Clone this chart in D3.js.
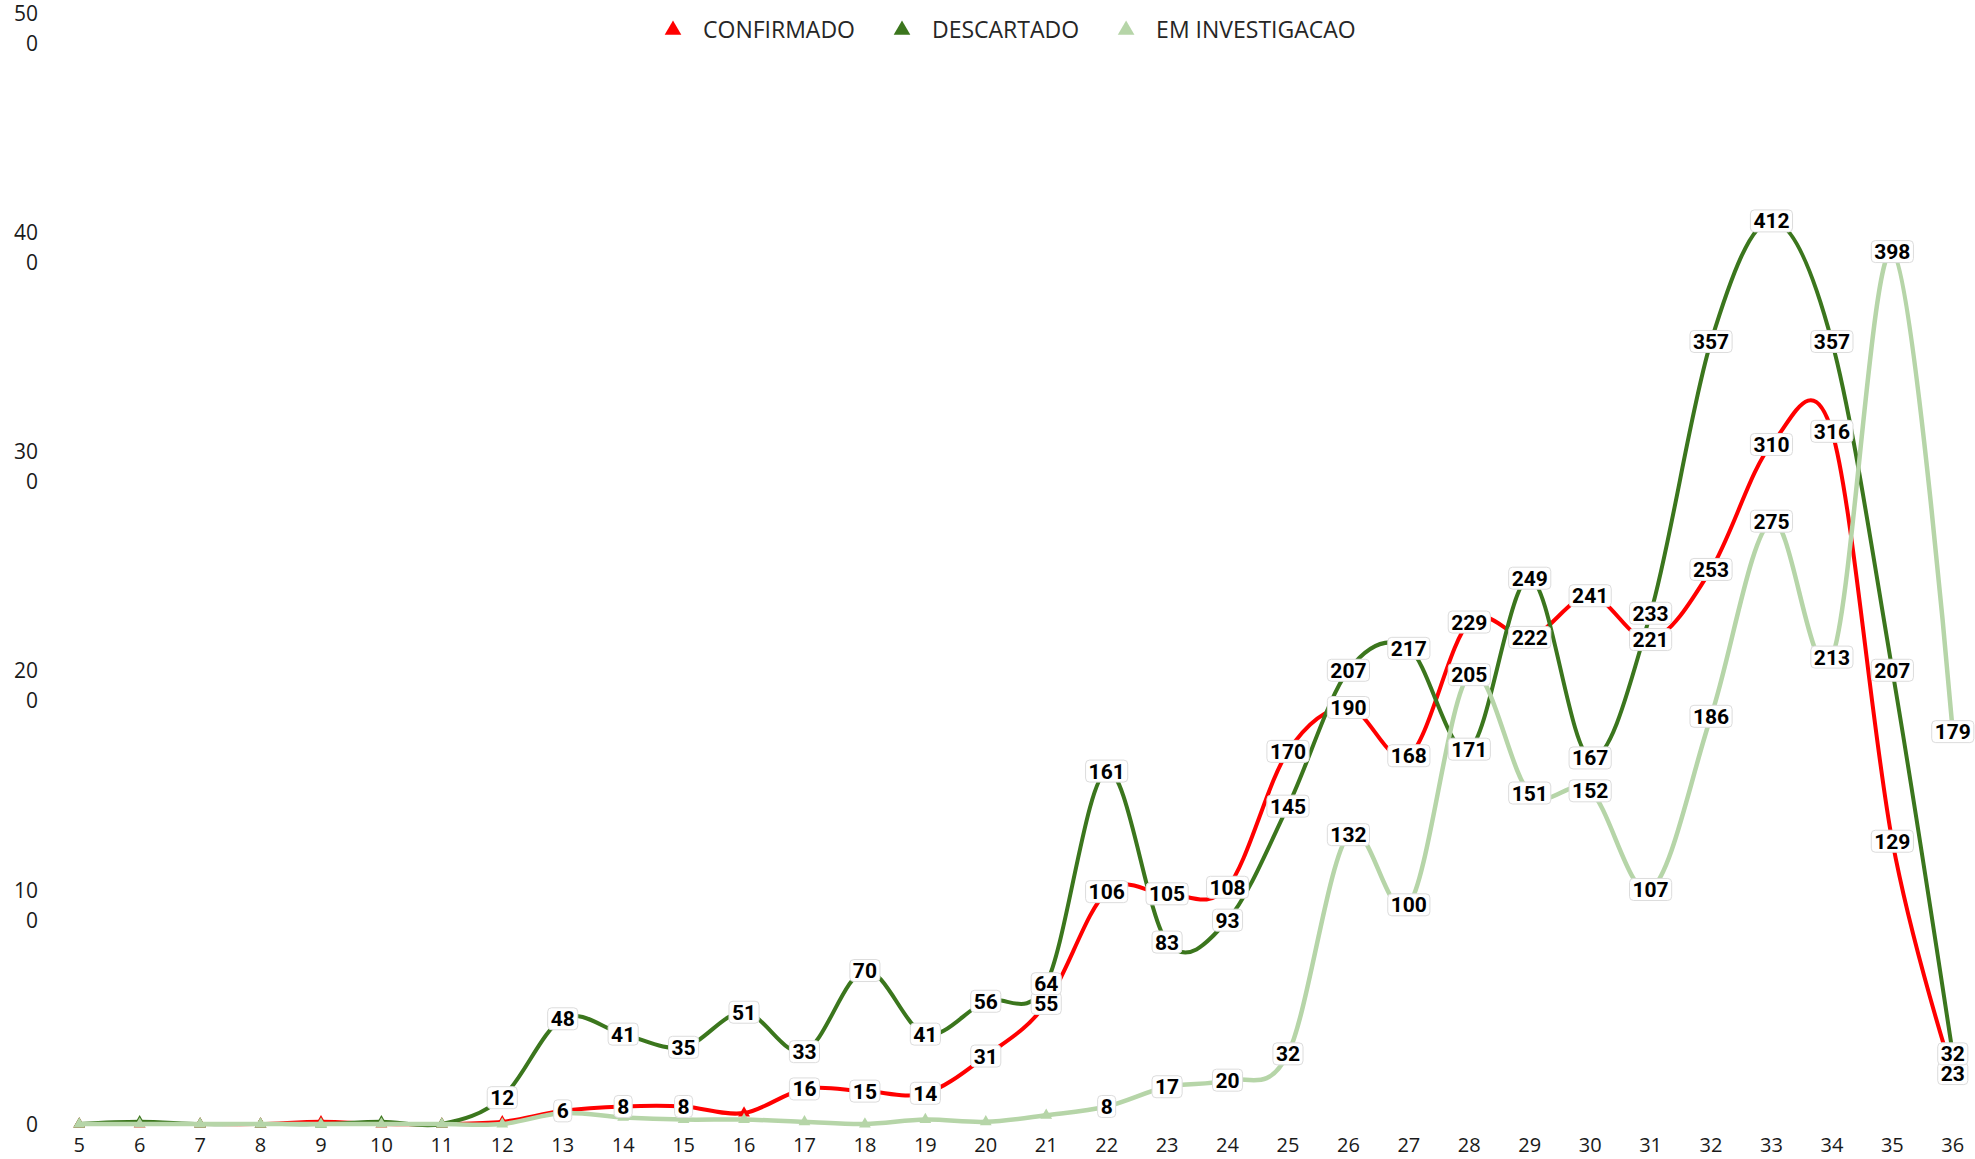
<!DOCTYPE html>
<html>
<head>
<meta charset="utf-8">
<script src="https://cdn.jsdelivr.net/npm/d3@7"></script>
<style>
  html, body { margin: 0; padding: 0; background: #fff; overflow: hidden; }
  svg { display: block; }
</style>
</head>
<body>
<svg id="chart" width="1975" height="1159"></svg>
<script>
// epidemiological week
const weeks = [5, 6, 7, 8, 9, 10, 11, 12, 13, 14, 15, 16, 17, 18, 19, 20,
               21, 22, 23, 24, 25, 26, 27, 28, 29, 30, 31, 32, 33, 34, 35, 36];

const confirmado = [0, 0, 0, 0, 1, 0, 0, 1, 6, 8, 8, 5, 16, 15, 14, 31,
                    55, 106, 105, 108, 170, 190, 168, 229, 222, 241, 221, 253, 310, 316, 129, 23];
const descartado = [0, 1, 0, 0, 0, 1, 0, 12, 48, 41, 35, 51, 33, 70, 41, 56,
                    64, 161, 83, 93, 145, 207, 217, 171, 249, 167, 233, 357, 412, 357, 207, 32];
const investigacao = [0, 0, 0, 0, 0, 0, 0, 0, 5, 3, 2, 2, 1, 0, 2, 1,
                      4, 8, 17, 20, 32, 132, 100, 205, 151, 152, 107, 186, 275, 213, 398, 179];

const seriesNames = ["CONFIRMADO", "DESCARTADO", "EM INVESTIGACAO"];
const seriesColors = ["#ff0000", "#3b761d", "#b6d5a8"];
const yTicks = [0, 100, 200, 300, 400, 500];
const labelMin = 6;   // smaller values get no data label

const series = [confirmado, descartado, investigacao].map((vals, i) => ({
  name: seriesNames[i],
  color: seriesColors[i],
  width: i === 2 ? 4.5 : 4,
  points: vals.map((v, j) => ({ week: weeks[j], value: v }))
}));

const svg = d3.select("#chart");

const x = d3.scaleBand().domain(weeks).range([49, 1983]);
const cx = w => x(w) + x.bandwidth() / 2;
const y = d3.scaleLinear().domain([0, 500]).range([1124, 28]);

const axisFont = "'Open Sans', 'Noto Sans', sans-serif";

// x axis
const xAxis = svg.append("g")
  .attr("transform", `translate(0,${y(0)})`)
  .call(d3.axisBottom(x).tickSize(0).tickPadding(14));
xAxis.select(".domain").remove();
xAxis.selectAll("text")
  .style("font-family", axisFont)
  .style("font-size", "20px")
  .attr("fill", "#1a1a1a");

// y axis, labels wrap after two characters like the original
const yAxis = svg.append("g")
  .attr("transform", "translate(38,0)")
  .call(d3.axisLeft(y).tickValues(yTicks).tickSize(0).tickPadding(0));
yAxis.select(".domain").remove();
yAxis.selectAll(".tick text")
  .style("font-family", axisFont)
  .style("font-size", "21px")
  .attr("fill", "#1a1a1a")
  .attr("text-anchor", "end")
  .each(function (d) {
    const s = String(d);
    const t = d3.select(this).text(null).attr("dy", null);
    if (s.length <= 2) {
      t.append("tspan").attr("x", 0).attr("dy", "0.35em").text(s);
    } else {
      t.append("tspan").attr("x", 0).attr("y", -15).attr("dy", "0.35em").text(s.slice(0, 2));
      t.append("tspan").attr("x", 0).attr("y", 15).attr("dy", "0.35em").text(s.slice(2));
    }
  });

// lines + markers
const line = d3.line()
  .x(d => cx(d.week))
  .y(d => y(d.value))
  .curve(d3.curveCardinal.tension(0));

const tri = d3.symbol().type(d3.symbolTriangle).size(60);

series.forEach(s => {
  const g = svg.append("g");
  g.append("path")
    .datum(s.points)
    .attr("fill", "none")
    .attr("stroke", s.color)
    .attr("stroke-width", s.width)
    .attr("stroke-linejoin", "round")
    .attr("d", line);
  g.selectAll("path.mk")
    .data(s.points)
    .join("path")
    .attr("class", "mk")
    .attr("d", tri)
    .attr("transform", d => `translate(${cx(d.week)},${y(d.value)})`)
    .attr("fill", s.color);
});

// data labels on top of everything
series.forEach(s => {
  const lbl = svg.append("g")
    .selectAll("g")
    .data(s.points.filter(d => d.value >= labelMin))
    .join("g")
    .attr("transform", d => `translate(${cx(d.week)},${y(d.value)})`);
  lbl.append("text")
    .attr("text-anchor", "middle")
    .attr("dy", "0.36em")
    .style("font-family", "Roboto, 'Liberation Sans', sans-serif")
    .style("font-weight", "700")
    .style("font-size", "21px")
    .attr("fill", "#000")
    .text(d => d.value);
  lbl.each(function () {
    const g = d3.select(this);
    const w = g.select("text").node().getComputedTextLength();
    g.insert("rect", "text")
      .attr("x", -w / 2 - 3)
      .attr("y", -11)
      .attr("width", w + 6)
      .attr("height", 22)
      .attr("rx", 4)
      .attr("fill", "#fff")
      .attr("stroke", "#dcdcdc")
      .attr("stroke-width", 1);
  });
});

// legend
const legend = svg.append("g").attr("transform", "translate(0,30)");
const legendSym = d3.symbol().type(d3.symbolTriangle).size(120);
let lx = 673;
series.forEach(s => {
  legend.append("path")
    .attr("d", legendSym)
    .attr("transform", `translate(${lx},0)`)
    .attr("fill", s.color);
  const t = legend.append("text")
    .attr("x", lx + 30)
    .attr("dy", "0.35em")
    .style("font-family", axisFont)
    .style("font-size", "23px")
    .attr("fill", "#262626")
    .text(s.name);
  lx += 30 + t.node().getComputedTextLength() + 47;
});
</script>
</body>
</html>
